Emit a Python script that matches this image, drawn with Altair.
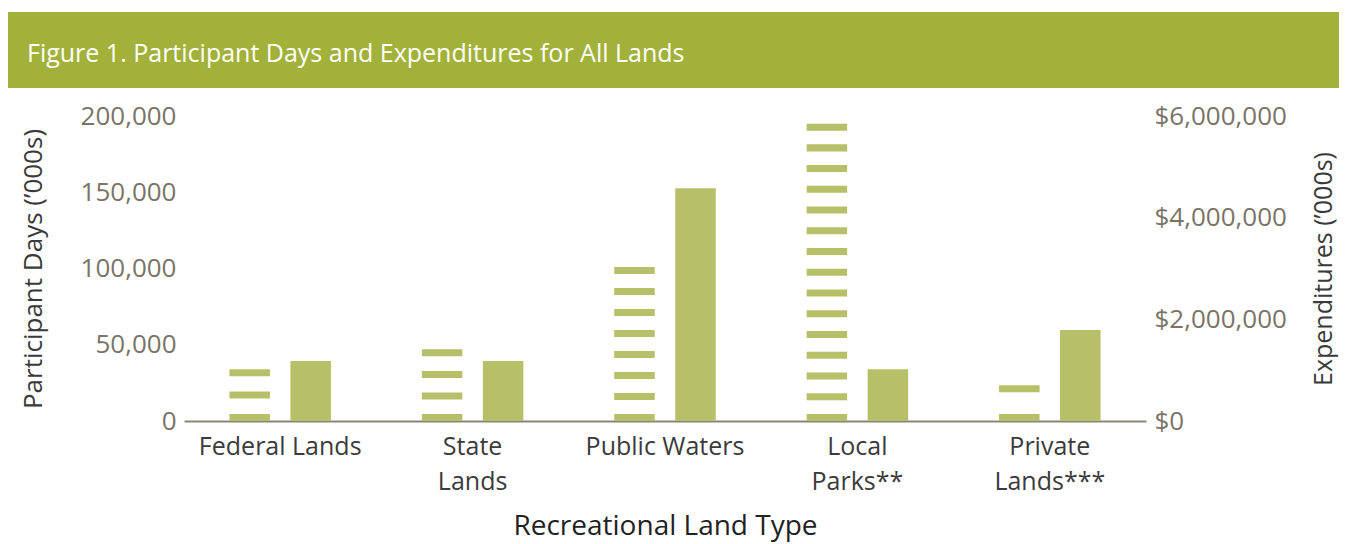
import altair as alt
import pandas as pd

# ---- data ----
categories = ["Federal Lands", "State\nLands", "Public Waters", "Local\nParks**", "Private\nLands***"]
participant_days = [34000, 47000, 101000, 195000, 23500]          # thousands of days
expenditures = [1180000, 1180000, 4580000, 1020000, 1790000]      # thousands of dollars
left_ticks = [0, 50000, 100000, 150000, 200000]
right_ticks = [0, 2000000, 4000000, 6000000]
title_text = "Figure 1. Participant Days and Expenditures for All Lands"

GREEN_BAR = "#b7bf69"
GREEN_BANNER = "#a2b13a"
LABEL_GRAY = "#7a7466"
FONT = "Open Sans"

# striped bars: split each participant-days bar into horizontal stripes
STRIPE = 4600      # stripe thickness in data units
PERIOD = 13800     # nominal stripe period in data units
rows = []
for c, v in zip(categories, participant_days):
    n = 1 + round((v - STRIPE) / PERIOD)
    d = (v - STRIPE) / (n - 1) if n > 1 else 0
    for i in range(n):
        rows.append({"cat": c, "series": "days", "y0": i * d, "y1": i * d + STRIPE})
stripes = pd.DataFrame(rows)

exp_df = pd.DataFrame({"cat": categories, "series": "exp", "value": expenditures})

x_enc = alt.X(
    "cat:N",
    sort=categories,
    scale=alt.Scale(paddingInner=0, paddingOuter=0),
    axis=alt.Axis(
        title="Recreational Land Type",
        labelAngle=0,
        labelExpr="split(datum.value, '\\n')",
        labelFont=FONT, labelFontSize=25, labelColor="#3b3b3b",
        labelLineHeight=35, labelPadding=13, labelBaseline="top",
        titleFont=FONT, titleFontSize=28, titleFontWeight="normal", titleColor="#222222",
        titlePadding=18,
        ticks=False, domain=True, domainColor="#8a8578", domainWidth=2,
        grid=False,
    ),
)
xoff = alt.XOffset("series:N", scale=alt.Scale(domain=["days", "exp"], paddingInner=0.336, paddingOuter=0.745))

days_layer = alt.Chart(stripes).mark_bar(color=GREEN_BAR).encode(
    x=x_enc,
    xOffset=xoff,
    y=alt.Y(
        "y1:Q",
        scale=alt.Scale(domain=[0, 200000], nice=False),
        axis=alt.Axis(
            orient="left", values=left_ticks, format=",.0f",
            title="Participant Days (’000s)",
            labelFont=FONT, labelFontSize=26, labelColor=LABEL_GRAY, labelPadding=8,
            titleFont=FONT, titleFontSize=26, titleFontWeight="normal", titleColor="#3a3a3a",
            titlePadding=34,
            domain=False, ticks=False, grid=False,
        ),
    ),
    y2="y0:Q",
)

exp_layer = alt.Chart(exp_df).mark_bar(color=GREEN_BAR).encode(
    x=x_enc,
    xOffset=xoff,
    y=alt.Y(
        "value:Q",
        scale=alt.Scale(domain=[0, 6000000], nice=False),
        axis=alt.Axis(
            orient="right", values=right_ticks, format="$,.0f",
            title="Expenditures (’000s)",
            labelFont=FONT, labelFontSize=26, labelColor=LABEL_GRAY, labelPadding=8,
            titleFont=FONT, titleFontSize=25, titleFontWeight="normal", titleColor="#3a3a3a",
            titleAngle=270, titleBaseline="top", titlePadding=25,
            domain=False, ticks=False, grid=False,
        ),
    ),
)

one = alt.Data(values=[{"t": title_text}])
banner = alt.Chart(one).mark_rect(color=GREEN_BANNER).encode(
    x=alt.value(-176), x2=alt.value(1155), y=alt.value(-104), y2=alt.value(-28)
)
banner_text = alt.Chart(one).mark_text(
    color="white", font=FONT, fontSize=25, align="left", baseline="middle"
).encode(x=alt.value(-157), y=alt.value(-62), text="t:N")

chart = (
    alt.layer(banner, banner_text, days_layer, exp_layer)
    .resolve_scale(y="independent")
    .properties(width=962, height=305, padding={"left": 0, "top": 4, "right": 0, "bottom": 5})
    .configure(background="white")
    .configure_view(stroke=None)
)

chart.save("out.html", embed_options={"renderer": "svg", "actions": False})
